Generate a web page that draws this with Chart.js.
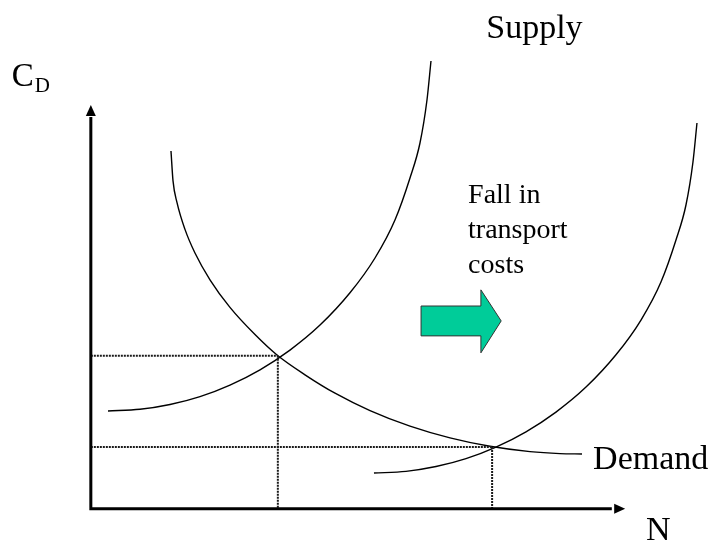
<!DOCTYPE html>
<html>
<head>
<meta charset="utf-8">
<script src="https://cdn.jsdelivr.net/npm/chart.js@4/dist/chart.umd.min.js"></script>
<style>
html,body{margin:0;padding:0;background:#fff;}
#wrap{width:716px;height:545px;}
</style>
</head>
<body>
<div id="wrap"><canvas id="c" width="716" height="545"></canvas></div>
<script>
// Curves (x = N, y = C_D, axis units 0..100)
const supplyBefore = [
  {x:3.21,y:24.19},{x:9.20,y:24.61},{x:14.82,y:25.80},{x:20.43,y:27.76},{x:26.04,y:30.61},
  {x:31.66,y:34.40},{x:37.27,y:39.28},{x:42.89,y:45.47},{x:48.50,y:53.47},{x:53.18,y:62.09},
  {x:56.92,y:71.50},{x:59.73,y:81.91},{x:61.60,y:90.58},{x:62.91,y:101.23},{x:63.66,y:110.89}
];
const supplyAfter = [
  {x:52.99,y:8.83},{x:58.98,y:9.25},{x:64.60,y:10.44},{x:70.21,y:12.40},{x:75.82,y:15.25},
  {x:81.44,y:19.04},{x:87.05,y:23.92},{x:92.67,y:30.11},{x:98.28,y:38.11},{x:102.96,y:46.73},
  {x:106.70,y:56.14},{x:109.51,y:66.55},{x:111.38,y:75.22},{x:112.69,y:85.87},{x:113.44,y:95.53}
];
const demand = [
  {x:15.00,y:88.60},{x:15.38,y:81.19},{x:16.13,y:75.81},{x:17.62,y:69.18},{x:19.49,y:63.33},
  {x:22.30,y:56.69},{x:26.04,y:49.85},{x:30.72,y:43.12},{x:34.84,y:38.06},{x:40.08,y:33.16},
  {x:45.70,y:28.60},{x:52.25,y:24.29},{x:59.73,y:20.43},{x:67.22,y:17.53},{x:74.70,y:15.45},
  {x:82.19,y:14.13},{x:87.80,y:13.64},{x:91.92,y:13.54}
];
// Equilibria (N, C_D)
const equilibria = [{x:35.0,y:37.9},{x:75.1,y:15.3}];
// Labels
const labels = {supply:"Supply", demand:"Demand", xAxis:"N", yAxisMain:"C", yAxisSub:"D",
  note:["Fall in","transport","costs"]};

const guideSets = [];
equilibria.forEach(e => {
  guideSets.push({data:[{x:0,y:e.y},{x:e.x,y:e.y}], borderColor:'#1a1a1a', borderWidth:2,
    borderDash:[2,1], pointRadius:0, showLine:true, tension:0});
  guideSets.push({data:[{x:e.x,y:e.y},{x:e.x,y:0}], borderColor:'#1a1a1a', borderWidth:2,
    borderDash:[2,1], pointRadius:0, showLine:true, tension:0});
});
const curveStyle = {borderColor:'#000', borderWidth:1.4, pointRadius:0, showLine:true,
  cubicInterpolationMode:'monotone'};

const serif = '"Liberation Serif","Times New Roman",serif';

const decor = {
  id:'decor',
  afterDatasetsDraw(chart){
    const {ctx, scales:{x, y}} = chart;
    const X = v => x.getPixelForValue(v), Y = v => y.getPixelForValue(v);
    ctx.save();
    // axes
    ctx.strokeStyle = '#000'; ctx.fillStyle = '#000'; ctx.lineWidth = 3;
    ctx.beginPath();
    ctx.moveTo(X(0), Y(97)); ctx.lineTo(X(0), Y(0)); ctx.lineTo(X(97.5), Y(0));
    ctx.stroke();
    // arrow heads
    ctx.beginPath();
    ctx.moveTo(X(0), Y(100)); ctx.lineTo(X(0)-5, Y(100)+11); ctx.lineTo(X(0)+5, Y(100)+11); ctx.closePath(); ctx.fill();
    ctx.beginPath();
    ctx.moveTo(X(100), Y(0)); ctx.lineTo(X(100)-11, Y(0)-5); ctx.lineTo(X(100)-11, Y(0)+5); ctx.closePath(); ctx.fill();

    // green shift arrow
    ctx.beginPath();
    ctx.moveTo(X(61.8), Y(50.2));
    ctx.lineTo(X(73.0), Y(50.2));
    ctx.lineTo(X(73.0), Y(54.2));
    ctx.lineTo(X(76.8), Y(46.5));
    ctx.lineTo(X(73.0), Y(38.6));
    ctx.lineTo(X(73.0), Y(42.8));
    ctx.lineTo(X(61.8), Y(42.8));
    ctx.closePath();
    ctx.fillStyle = '#00CC99'; ctx.fill();
    ctx.lineWidth = 1; ctx.strokeStyle = '#333'; ctx.stroke();

    // text
    ctx.fillStyle = '#000'; ctx.textBaseline = 'alphabetic'; ctx.textAlign = 'left';
    ctx.font = '34px ' + serif;
    ctx.fillText(labels.supply, X(74.0), Y(116.6));
    ctx.fillText(labels.demand, X(94.0), Y(9.8));
    ctx.fillText(labels.xAxis, X(103.9), Y(-7.8));
    ctx.font = '33px ' + serif;
    ctx.fillText(labels.yAxisMain, X(-14.8), Y(104.7));
    ctx.font = '21px ' + serif;
    ctx.fillText(labels.yAxisSub, X(-10.5), Y(103.2));
    ctx.font = '28px ' + serif;
    const base = [75.7, 67.0, 58.4];
    labels.note.forEach((t,i) => ctx.fillText(t, X(70.6), Y(base[i])));
    ctx.restore();
  }
};

new Chart(document.getElementById('c'), {
  type:'scatter',
  data:{datasets:[
    ...guideSets,
    Object.assign({data:supplyBefore}, curveStyle),
    Object.assign({data:supplyAfter}, curveStyle),
    Object.assign({data:demand}, curveStyle)
  ]},
  options:{
    responsive:false, animation:false,
    layout:{padding:0},
    plugins:{legend:{display:false}, tooltip:{enabled:false}, title:{display:false}},
    scales:{
      x:{type:'linear', min:-17, max:117, display:false},
      y:{type:'linear', min:-9, max:126, display:false}
    },
    clip:false
  },
  plugins:[decor]
});
</script>
</body>
</html>
